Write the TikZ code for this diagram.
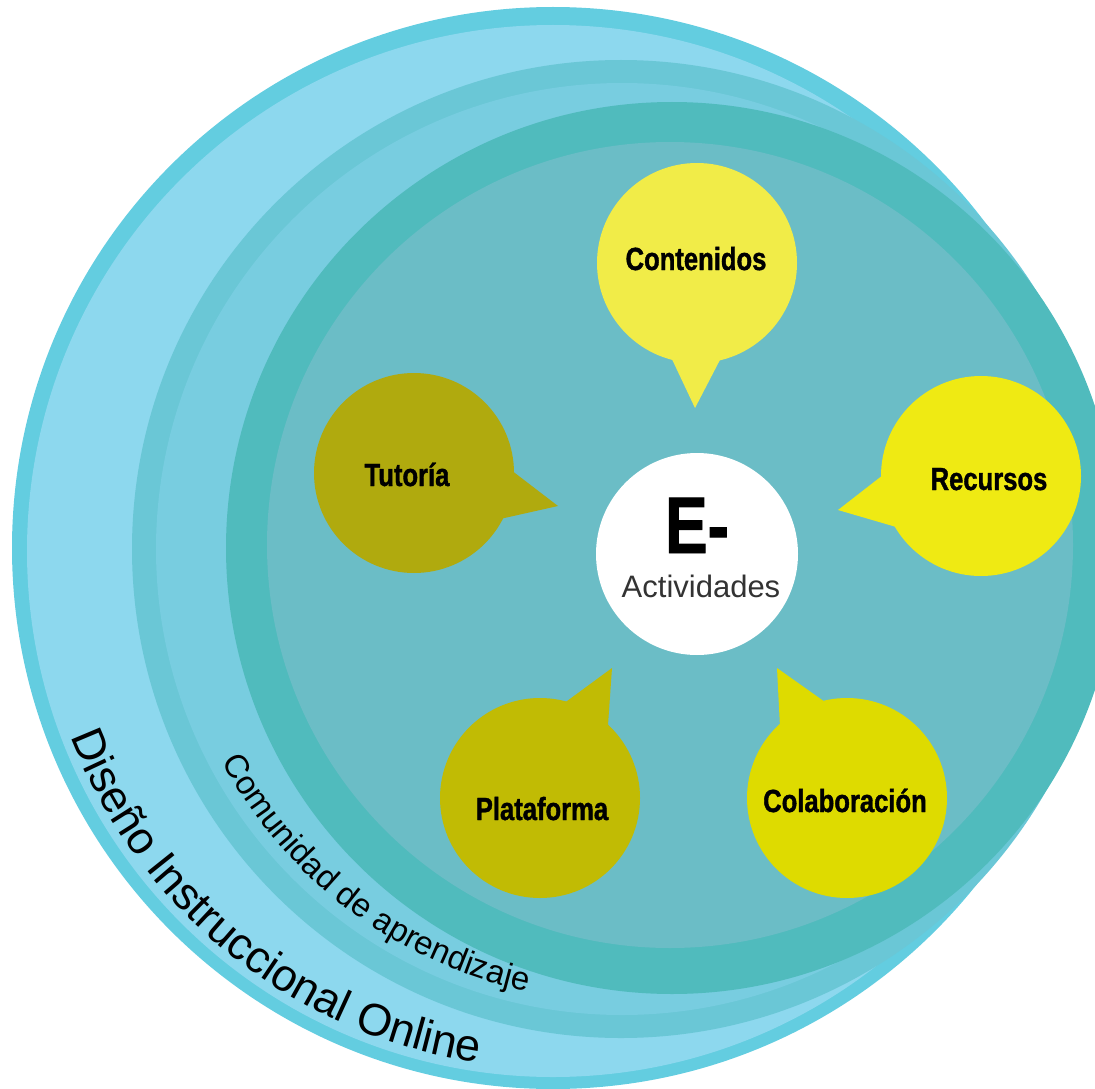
\documentclass[tikz,border=0pt]{standalone}
\usepackage{fontspec}
\setmainfont{Liberation Sans}
\newfontfamily\condfont{Liberation Sans}[FakeStretch=0.8, BoldFeatures={FakeBold=1.2}]
\usetikzlibrary{decorations.text}
\definecolor{cA}{HTML}{63CDE0}
\definecolor{cB}{HTML}{8DD8EE}
\definecolor{cC}{HTML}{6AC7D6}
\definecolor{cD}{HTML}{78CDE0}
\definecolor{cE}{HTML}{50BBBD}
\definecolor{cF}{HTML}{6BBDC6}
\definecolor{bCont}{HTML}{F1EC48}
\definecolor{bTut}{HTML}{B0AA0E}
\definecolor{bRec}{HTML}{EFEA13}
\definecolor{bPlat}{HTML}{C1BB04}
\definecolor{bCol}{HTML}{DEDB00}
\newcommand\dfont{\fontsize{45}{45}\selectfont}
\newcommand\cfont{\fontsize{33}{33}\selectfont}
\tikzset{
  bubble/.style={circle, minimum size=200pt, inner sep=0pt},
  blabel/.style={anchor=base, font=\condfont\bfseries\fontsize{32}{32}\selectfont, text=black, inner sep=0pt},
}
\begin{document}
\begin{tikzpicture}[x=1pt,y=1pt]
\useasboundingbox (0,0) rectangle (1095,-1089);
\begin{scope}
\clip (0,0) rectangle (1095,-1089);
\fill[cA] (553,-548) circle[radius=541];
\fill[cB] (553,-551) circle[radius=526];
\fill[cC] (621,-549) circle[radius=489];
\fill[cD] (622,-549) circle[radius=466];
\fill[cE] (672,-548) circle[radius=446];
\fill[cF] (670,-545) circle[radius=403];
\end{scope}

% curved labels
\path[decorate, decoration={text along path, text align=left,
  text={|\dfont|Diseño Instruccional Online}}]
  (553,-551) ++(201:517) arc[start angle=201, end angle=270, radius=517];
\path[decorate, decoration={text along path, text align=left,
  text={|\cfont|Comunidad de aprendizaje}}]
  (621,-549) ++(208:452) arc[start angle=208, end angle=270, radius=452];

% centre
\node[circle, fill=white, minimum size=202pt, inner sep=0pt] (ctr) at (697,-554) {};
\node[anchor=base, inner sep=0pt, font=\condfont\bfseries\fontsize{80}{80}\selectfont] (eminus) at (697,-553) {E-};
\node[anchor=base, inner sep=0pt, font=\fontsize{31}{31}\selectfont, text=black!80] (act) at (701,-597) {Actividades};

% Contenidos
\node[bubble, fill=bCont] (cont) at (697,-263) {};
\coordinate (contTip) at (695,-408);
\fill[bCont] (670,-355) -- (contTip) -- (722,-356) -- cycle;
\node[blabel] (contL) at (696,-270) {Contenidos};

% Tutoria
\node[bubble, fill=bTut] (tut) at (414,-473) {};
\coordinate (tutTip) at (558,-506);
\fill[bTut] (511,-470) -- (tutTip) -- (500,-519) -- cycle;
\node[blabel] (tutL) at (407,-486) {Tutoría};

% Recursos
\node[bubble, fill=bRec] (rec) at (981,-476) {};
\coordinate (recTip) at (838,-510);
\fill[bRec] (883,-475) -- (recTip) -- (903,-529) -- cycle;
\node[blabel] (recL) at (989,-490) {Recursos};

% Plataforma
\node[bubble, fill=bPlat] (plat) at (540,-798) {};
\coordinate (platTip) at (612,-668);
\fill[bPlat] (563,-704) -- (platTip) -- (608,-725) -- cycle;
\node[blabel] (platL) at (542,-820) {Plataforma};

% Colaboracion
\node[bubble, fill=bCol] (col) at (847,-798) {};
\coordinate (colTip) at (777,-668);
\fill[bCol] (825,-702) -- (colTip) -- (780,-727) -- cycle;
\node[blabel] (colL) at (845,-812) {Colaboración};
\end{tikzpicture}
\end{document}
